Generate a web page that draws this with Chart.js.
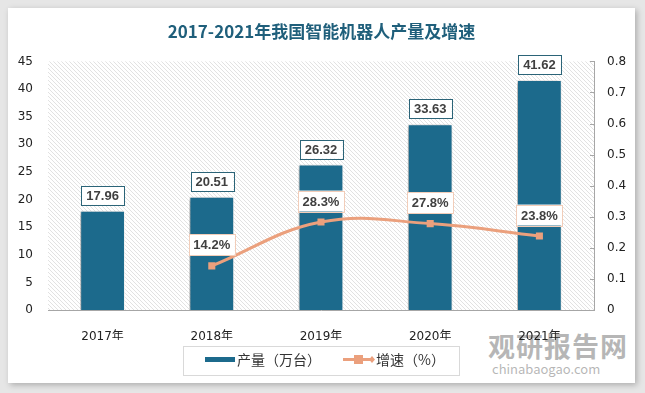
<!DOCTYPE html>
<html>
<head>
<meta charset="utf-8">
<script src="https://cdn.jsdelivr.net/npm/chart.js@4.4.0/dist/chart.umd.min.js"></script>
<style>
  body { margin: 0; background: #e6e6e6; }
  #card { position: absolute; left: 8px; top: 8px; width: 627px; height: 375px; background: #fff; box-shadow: 2px 2px 6px rgba(0,0,0,0.25); }
  #wrap { position: absolute; left: 0; top: 0; width: 645px; height: 393px; }
  #mark { position: absolute; left: 488px; top: 331px; color: rgba(110,110,110,0.5); font-family: "Noto Sans CJK SC"; }
  #mark .big { font-size: 27px; font-weight: bold; letter-spacing: 1px; line-height: 30px; }
  #mark .small { font-size: 13px; line-height: 16px; padding-left: 4px; }
</style>
</head>
<body>
<div id="card"></div>
<div id="mark"><div class="big">观研报告网</div><div class="small">chinabaogao.com</div></div>
<div id="wrap"><canvas id="grafico" width="645" height="393"></canvas></div>
<script>
// datos del grafico
const anios = ["2017年", "2018年", "2019年", "2020年", "2021年"];
const produccion = [17.96, 20.51, 26.32, 33.63, 41.62];
const crecimiento = [null, 0.142, 0.283, 0.278, 0.238];
const ticksIzq = [0, 5, 10, 15, 20, 25, 30, 35, 40, 45];
const ticksDer = [0, 0.1, 0.2, 0.3, 0.4, 0.5, 0.6, 0.7, 0.8];

const azul = "#1c6a8c";
const salmon = "#eba07d";
const fuente = "'DejaVu Sans', 'Noto Sans CJK SC', sans-serif";

// fondo rayado
function rayado(ctx) {
    const c = document.createElement("canvas");
    c.width = 4; c.height = 4;
    const p = c.getContext("2d");
    p.fillStyle = "#fff";
    p.fillRect(0, 0, 4, 4);
    p.strokeStyle = "#e2e2e2";
    p.lineWidth = 1;
    p.beginPath();
    p.moveTo(-1, -1); p.lineTo(5, 5);
    p.moveTo(-1, 3); p.lineTo(1, 5);
    p.moveTo(3, -1); p.lineTo(5, 1);
    p.stroke();
    return ctx.createPattern(c, "repeat");
}

function caja(ctx, x, y, w, h, borde) {
    ctx.fillStyle = "#fff";
    ctx.fillRect(x, y, w, h);
    ctx.strokeStyle = borde;
    ctx.lineWidth = 1;
    ctx.strokeRect(Math.round(x) + 0.5, Math.round(y) + 0.5, Math.round(w), Math.round(h));
}

const extras = {
    id: "extras",
    beforeDraw(chart) {
        const { ctx, chartArea: a } = chart;
        ctx.save();
        ctx.fillStyle = rayado(ctx);
        ctx.fillRect(a.left, a.top, a.right - a.left, a.bottom - a.top);
        ctx.restore();
    },
    beforeDatasetDraw(chart, args) {
        if (args.index === 0) {
            const ctx = chart.ctx;
            ctx.save();
            ctx.shadowColor = "rgba(0,0,0,0.35)";
            ctx.shadowBlur = 4;
            ctx.shadowOffsetX = -2;
            ctx.shadowOffsetY = 1;
        }
    },
    afterDatasetDraw(chart, args) {
        if (args.index === 0) chart.ctx.restore();
    },
    afterDatasetsDraw(chart) {
        const ctx = chart.ctx;
        ctx.save();
        // marcas del eje derecho hacia dentro
        const y1 = chart.scales.y1;
        ctx.strokeStyle = "#a6a6a6";
        ctx.lineWidth = 1;
        ticksDer.forEach((v) => {
            const y = Math.round(y1.getPixelForValue(v)) + 0.5;
            ctx.beginPath();
            ctx.moveTo(y1.left - 4, y);
            ctx.lineTo(y1.left, y);
            ctx.stroke();
        });
        ctx.font = "bold 13px 'Liberation Sans', sans-serif";
        ctx.textAlign = "center";
        ctx.textBaseline = "middle";
        // etiquetas de barras
        chart.getDatasetMeta(0).data.forEach((bar, i) => {
            const txt = produccion[i].toFixed(2);
            const w = ctx.measureText(txt).width + 10;
            const h = 19;
            caja(ctx, bar.x - w / 2, bar.y - 6 - h, w, h, "#2b6478");
            ctx.fillStyle = "#404040";
            ctx.fillText(txt, bar.x, bar.y - 6 - h / 2 + 1);
        });
        // etiquetas de la linea
        chart.getDatasetMeta(1).data.forEach((pt, i) => {
            if (crecimiento[i] === null) return;
            const txt = (crecimiento[i] * 100).toFixed(1) + "%";
            const w = ctx.measureText(txt).width + 9;
            const h = 21;
            caja(ctx, pt.x - w / 2, pt.y - 21 - h / 2, w, h, "#f2cdb9");
            ctx.fillStyle = "#404040";
            ctx.fillText(txt, pt.x, pt.y - 20);
        });
        // leyenda
        caja(ctx, 183, 346, 276, 29, "#d9d9d9");
        ctx.fillStyle = azul;
        ctx.fillRect(205, 357, 30, 5);
        ctx.strokeStyle = salmon;
        ctx.lineWidth = 3;
        ctx.beginPath();
        ctx.moveTo(343, 359.5); ctx.lineTo(372, 359.5);
        ctx.stroke();
        ctx.fillStyle = salmon;
        ctx.fillRect(354, 355, 9, 9);
        ctx.beginPath();
        ctx.moveTo(372, 356); ctx.lineTo(375, 359.5); ctx.lineTo(372, 363); ctx.lineTo(369, 359.5);
        ctx.fill();
        ctx.font = "14px 'Noto Sans CJK SC', sans-serif";
        ctx.textAlign = "left";
        ctx.fillStyle = "#333";
        ctx.fillText(chart.data.datasets[0].label, 237, 360);
        ctx.fillText(chart.data.datasets[1].label, 376, 360);
        ctx.restore();
    }
};

new Chart(document.getElementById("grafico").getContext("2d"), {
    data: {
        labels: anios,
        datasets: [
            {
                type: "bar",
                label: "产量（万台）",
                data: produccion,
                backgroundColor: azul,
                borderColor: "rgba(255,255,255,0.6)",
                borderWidth: 1,
                barPercentage: 0.82,
                categoryPercentage: 0.5,
                yAxisID: "y",
                order: 2
            },
            {
                type: "line",
                label: "增速（%）",
                data: crecimiento,
                borderColor: salmon,
                backgroundColor: salmon,
                borderWidth: 3,
                tension: 0.4,
                pointStyle: "rect",
                pointRadius: 5,
                pointBorderWidth: 0,
                yAxisID: "y1",
                order: 1
            }
        ]
    },
    options: {
        responsive: false,
        animation: false,
        layout: { padding: { left: 8, right: 10, top: 0, bottom: 53 } },
        plugins: {
            legend: { display: false },
            tooltip: { enabled: false },
            title: {
                display: true,
                text: "2017-2021年我国智能机器人产量及增速",
                color: "#1f5f7b",
                font: { size: 17, weight: "bold", family: "'Noto Sans CJK SC', sans-serif" },
                padding: { top: 21, bottom: 20 }
            }
        },
        scales: {
            x: {
                grid: { display: false },
                border: { display: true, color: "#a6a6a6" },
                ticks: { color: "#222", padding: 12, font: { size: 12, family: fuente } },
                afterFit: (s) => { s.height = 30; }
            },
            y: {
                position: "left",
                min: 0,
                max: 45,
                afterBuildTicks: (s) => { s.ticks = ticksIzq.map((v) => ({ value: v })); },
                grid: { display: false, drawTicks: false },
                border: { display: false },
                ticks: { color: "#222", padding: 15, font: { size: 12, family: fuente } },
                afterFit: (s) => { s.width = 40; }
            },
            y1: {
                position: "right",
                min: 0,
                max: 0.8,
                afterBuildTicks: (s) => { s.ticks = ticksDer.map((v) => ({ value: v })); },
                grid: { display: false, drawTicks: false },
                border: { display: true, color: "#a6a6a6" },
                ticks: { color: "#222", padding: 13, font: { size: 12, family: fuente } },
                afterFit: (s) => { s.width = 41; }
            }
        }
    },
    plugins: [extras]
});
</script>
</body>
</html>
